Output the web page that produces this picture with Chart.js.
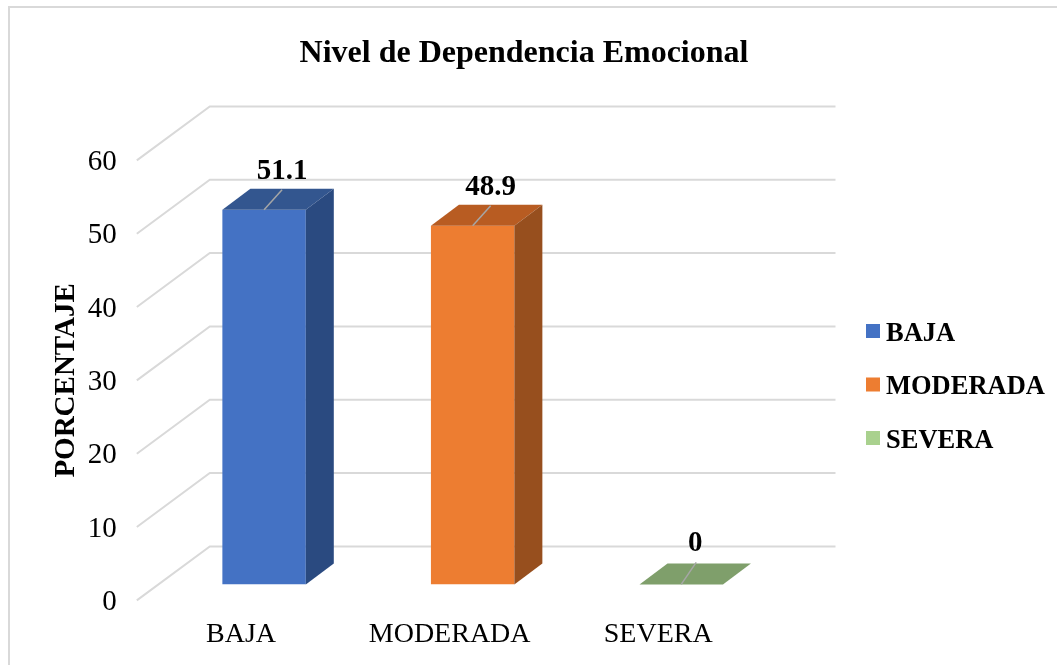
<!DOCTYPE html>
<html lang="es">
<head>
<meta charset="UTF-8">
<title>Nivel de Dependencia Emocional</title>
<style>
  html, body { margin: 0; padding: 0; background: #fff; }
  .frame { position: absolute; left: 8px; top: 6px; width: 1100px; height: 700px; border: 2px solid #d9d9d9; box-sizing: border-box; }
  .page { position: relative; width: 1057px; height: 665px; overflow: hidden; }
  .wrap { position: absolute; left: 0; top: 0; width: 1057px; height: 665px; }
</style>
<script src="https://cdn.jsdelivr.net/npm/chart.js"></script>
</head>
<body>
<div class="page">
<div class="frame"></div>
<div class="wrap"><canvas id="chart" width="1057" height="665"></canvas></div>
</div>
<script>
const categories = ['BAJA', 'MODERADA', 'SEVERA'];
const values = [51.1, 48.9, 0];
const yTicks = [0, 10, 20, 30, 40, 50, 60];
const frontColors = ['#4472c4', '#ed7d31', '#a9d18e'];
const topColors = ['#33568f', '#b85c22', '#7f9f6b'];
const sideColors = ['#2a4a80', '#974f1e', '#6f8c5d'];

const FONT = '"Liberation Serif", "Times New Roman", serif';
// 3d look: bars sit inside the floor, depth goes up and to the right
const barShift = { x: 23, y: -16 };
const barDepth = { x: 28, y: -21 };
const wallShift = { x: 73, y: -54 };

const plugin3d = {
  id: 'plugin3d',
  afterLayout(chart) {
    // title is centred on the whole frame, not the plot
    chart.titleBlock.left = 0;
    chart.titleBlock.right = 1048;
    // y labels sit a little lower than their gridline start
    const y = chart.scales.y;
    if (!y._shifted) {
      const drawLabels = y.drawLabels;
      y.drawLabels = function (area) {
        chart.ctx.save();
        chart.ctx.translate(0, 2);
        drawLabels.call(y, area);
        chart.ctx.restore();
      };
      y._shifted = true;
    }
  },
  beforeDatasetsDraw(chart) {
    const { ctx, scales: { y }, chartArea } = chart;
    ctx.save();
    ctx.strokeStyle = '#d9d9d9';
    ctx.lineWidth = 2;
    yTicks.forEach(t => {
      const py = y.getPixelForValue(t);
      ctx.beginPath();
      ctx.moveTo(chartArea.left, py);
      ctx.lineTo(chartArea.left + wallShift.x, py + wallShift.y);
      ctx.lineTo(chartArea.right + wallShift.x, py + wallShift.y);
      ctx.stroke();
    });
    ctx.restore();
    ctx.save();
    ctx.translate(barShift.x, barShift.y);
  },
  afterDatasetsDraw(chart) {
    const { ctx } = chart;
    const bars = chart.getDatasetMeta(0).data;
    bars.forEach((bar, i) => {
      const half = bar.width / 2;
      const l = bar.x - half, r = bar.x + half;
      const flat = values[i] === 0;
      // top face
      ctx.fillStyle = topColors[i];
      ctx.beginPath();
      ctx.moveTo(l, bar.y);
      ctx.lineTo(r, bar.y);
      ctx.lineTo(r + barDepth.x, bar.y + barDepth.y);
      ctx.lineTo(l + barDepth.x, bar.y + barDepth.y);
      ctx.closePath();
      ctx.fill();
      // side face
      if (!flat) {
        ctx.fillStyle = sideColors[i];
        ctx.beginPath();
        ctx.moveTo(r, bar.y);
        ctx.lineTo(r + barDepth.x, bar.y + barDepth.y);
        ctx.lineTo(r + barDepth.x, bar.base + barDepth.y);
        ctx.lineTo(r, bar.base);
        ctx.closePath();
        ctx.fill();
      }
      // leader line and value label
      ctx.strokeStyle = '#a6a6a6';
      ctx.lineWidth = 1.5;
      ctx.beginPath();
      ctx.moveTo(bar.x, bar.y);
      ctx.lineTo(bar.x + (flat ? 15 : 18), bar.y - (flat ? 22 : 20));
      ctx.stroke();
      ctx.fillStyle = '#000';
      ctx.font = 'bold 29px ' + FONT;
      ctx.textAlign = 'center';
      ctx.textBaseline = 'middle';
      ctx.fillText(String(values[i]), bar.x + (flat ? 14 : 18), bar.y - (flat ? 41 : 38));
    });
    ctx.restore();
  },
  afterDraw(chart) {
    const { ctx } = chart;
    ctx.save();
    ctx.font = 'bold 26.5px ' + FONT;
    ctx.textAlign = 'left';
    ctx.textBaseline = 'middle';
    categories.forEach((c, i) => {
      const ly = 331 + i * 53.5;
      ctx.fillStyle = frontColors[i];
      ctx.fillRect(866, ly - 7, 14, 14);
      ctx.fillStyle = '#000';
      ctx.fillText(c, 886, ly + 3);
    });
    ctx.restore();
  }
};

new Chart(document.getElementById('chart'), {
  type: 'bar',
  data: {
    labels: categories,
    datasets: [{ data: values, backgroundColor: frontColors, borderWidth: 0, barPercentage: 0.8, categoryPercentage: 0.5 }]
  },
  options: {
    responsive: false,
    animation: false,
    layout: { padding: { left: 49, right: 294.5, top: 0, bottom: 5 } },
    plugins: {
      legend: { display: false },
      tooltip: { enabled: false },
      title: {
        display: true,
        text: 'Nivel de Dependencia Emocional',
        color: '#000',
        font: { family: FONT, size: 32, weight: 'bold' },
        padding: { top: 35, bottom: 87 }
      }
    },
    scales: {
      x: {
        grid: { display: false },
        border: { display: false },
        ticks: { color: '#000', font: { family: FONT, size: 28 }, padding: 9, maxRotation: 0 }
      },
      y: {
        min: 0,
        max: 60,
        afterBuildTicks(axis) { axis.ticks = yTicks.map(v => ({ value: v })); },
        grid: { display: false },
        border: { display: false },
        title: { display: true, text: 'PORCENTAJE', color: '#000', font: { family: FONT, size: 29, weight: 'bold' }, padding: { top: 0, bottom: -8 } },
        ticks: { color: '#000', font: { family: FONT, size: 29 }, padding: 12 }
      }
    }
  },
  plugins: [plugin3d]
});
</script>
</body>
</html>
